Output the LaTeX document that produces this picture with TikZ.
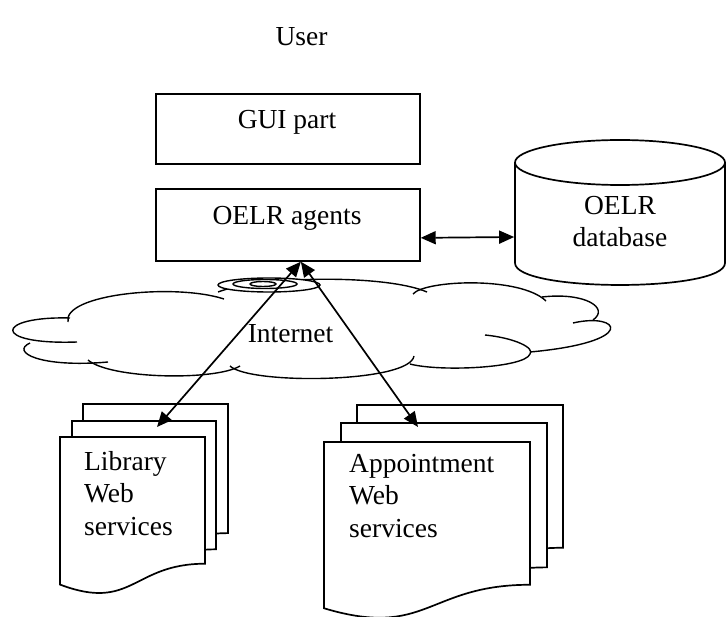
\documentclass[tikz,border=0pt]{standalone}
\usepackage{fontspec}
\setmainfont{Liberation Serif}
\usetikzlibrary{arrows.meta,calc}

% one page of a stacked document symbol: x, y (top left), width, height
\newcommand\docpage[4]{%
  \filldraw[fill=white] (#1,#2) -- ({#1+#3},#2) -- ({#1+#3},{#2+0.802*#4})
    .. controls ({#1+0.5*#3},{#2+0.802*#4}) and ({#1+0.5*#3},{#2+1.1075*#4})
    .. (#1,{#2+0.934*#4}) -- cycle;}

\begin{document}
\begin{tikzpicture}[x=1pt,y=-1pt,line width=1.7pt,
  every node/.style={font=\fontsize{27.5}{32.5}\selectfont},
  box/.style={draw,rectangle,inner sep=0pt,anchor=north west},
  twoway/.style={{Triangle[length=15pt,width=13pt]}-{Triangle[length=15pt,width=13pt]}},
  cloudline/.style={line width=1.4pt}]
\useasboundingbox (0,0) rectangle (727,617);

% title
\node[anchor=base] (user) at (301.5,46) {User};

% application layers
\node[box,minimum width=264pt,minimum height=70pt] (gui) at (155,93) {};
\node[anchor=base] (guitext) at (287,129) {GUI part};
\node[box,minimum width=264pt,minimum height=72pt] (agents) at (155,188) {};
\node[anchor=base] (agtext) at (287,225) {OELR agents};

% database cylinder
\draw (515,162.5) -- (515,263) .. controls (515,292.3) and (725,292.3) .. (725,263) -- (725,162.5);
\draw (620,162.5) ellipse [x radius=105pt,y radius=22.5pt];
\node[inner sep=0pt,minimum width=210pt,minimum height=74pt] (db) at (620,237) {};
\node[align=center,anchor=base] (dbtext) at (620,247) {OELR\\database};
\draw[twoway] ([yshift=-13pt]agents.east) -- (db.west);

% internet cloud
\begin{scope}[cloudline]
\draw (77,342) .. controls (-10,345) and (-5,316) .. (70,318);
\draw (68,322) .. controls (62,294) and (175,283) .. (224,299);
\draw (218,292) .. controls (260,276) and (385,274) .. (427,292);
\draw (413,294) .. controls (425,280) and (520,276) .. (546,301);
\draw (542,297) .. controls (585,292) and (610,308) .. (593,320);
\draw (573,323) .. controls (620,312) and (640,342) .. (530,352);
\draw (485,335) .. controls (515,338) and (535,348) .. (530,354)
      .. controls (525,368) and (440,372) .. (410,364);
\draw (414,356) .. controls (410,383) and (250,385) .. (230,366);
\draw (88,360) .. controls (110,379) and (215,381) .. (240,366);
\draw (30,343) .. controls (10,352) and (40,368) .. (108,362);
\filldraw[fill=white] (269,285) ellipse [x radius=51pt,y radius=7pt];
\filldraw[fill=white] (265,284) ellipse [x radius=32pt,y radius=4.5pt];
\filldraw[fill=white] (263,284) ellipse [x radius=13pt,y radius=2.5pt];
\end{scope}
\node[anchor=base] (inet) at (290.5,342) {Internet};

% web service stacks
\docpage{83}{404}{145}{161}
\docpage{72}{421}{144}{160}
\docpage{60}{437}{145}{158}
\node[align=left,anchor=base west] (libtext) at (80,535) {Library\\Web\\services};

\docpage{357}{405}{206}{178}
\docpage{341}{423}{206}{180}
\docpage{324}{442}{206}{178}
\node[align=left,anchor=base west] (apptext) at (345,537) {Appointment\\Web\\services};

% links through the internet
\coordinate (hub) at ([xshift=13pt]agents.south);
\coordinate (libend) at (157,427);
\coordinate (append) at (418,427);
\draw[twoway] (libend) -- (hub);
\draw[twoway] (append) -- (hub);
\end{tikzpicture}
\end{document}
